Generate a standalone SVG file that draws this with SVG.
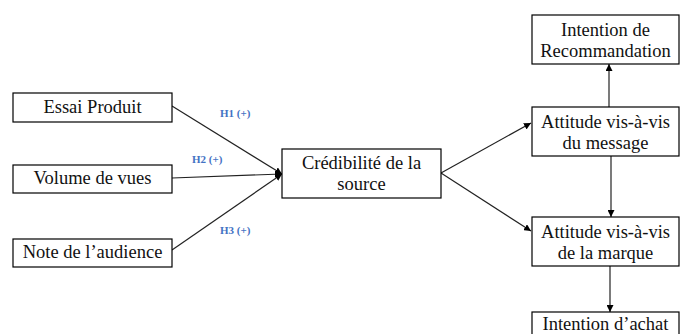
<svg xmlns="http://www.w3.org/2000/svg" width="681" height="334" viewBox="0 0 681 334">
<style>
.box{fill:#fff;stroke:#000;stroke-width:1.2}
.t{font-family:"Liberation Serif","Times New Roman",serif;font-size:18.5px;fill:#111;text-anchor:middle}
.h{font-family:"Liberation Serif","Times New Roman",serif;font-size:11px;font-weight:bold;fill:#4472C4}
.c{stroke:#222;stroke-width:1.2;fill:none;marker-end:url(#a)}
</style>
<defs>
<marker id="a" viewBox="0 0 10 10" refX="10" refY="5" markerWidth="7" markerHeight="7" markerUnits="userSpaceOnUse" orient="auto">
<path d="M0,0 L10,5 L0,10 z" fill="#000"/>
</marker>
</defs>
<rect width="681" height="334" fill="#fff"/>
<g id="connectors">
<line class="c" x1="172" y1="106" x2="282" y2="174"/>
<line class="c" x1="172" y1="178" x2="282" y2="174"/>
<line class="c" x1="172" y1="250" x2="282" y2="174"/>
<line class="c" x1="441" y1="173" x2="531" y2="123"/>
<line class="c" x1="441" y1="173" x2="531" y2="231"/>
<line class="c" x1="609" y1="107" x2="609" y2="64"/>
<line class="c" x1="611" y1="156" x2="611" y2="217"/>
<line class="c" x1="610" y1="266" x2="610" y2="312"/>
</g>
<g id="labels">
<text class="h" x="220" y="117">H1 (+)</text>
<text class="h" x="192" y="163">H2 (+)</text>
<text class="h" x="220" y="234">H3 (+)</text>
</g>
<g id="essai">
<rect class="box" x="13" y="93" width="159" height="29"/>
<text class="t" x="92.5" y="112.5">Essai Produit</text>
</g>
<g id="volume">
<rect class="box" x="13" y="165" width="159" height="28"/>
<text class="t" x="92.5" y="184">Volume de vues</text>
</g>
<g id="note">
<rect class="box" x="13" y="239" width="159" height="28"/>
<text class="t" x="92.5" y="258">Note de l’audience</text>
</g>
<g id="credibilite">
<rect class="box" x="282" y="149" width="159" height="49"/>
<text class="t" x="361.5" y="169">Crédibilité de la</text>
<text class="t" x="361.5" y="190">source</text>
</g>
<g id="recommandation">
<rect class="box" x="532" y="15" width="147" height="49"/>
<text class="t" x="605.5" y="36">Intention de</text>
<text class="t" x="605.5" y="57">Recommandation</text>
</g>
<g id="message">
<rect class="box" x="532" y="107" width="147" height="49"/>
<text class="t" x="605.5" y="128">Attitude vis-à-vis</text>
<text class="t" x="605.5" y="149">du message</text>
</g>
<g id="marque">
<rect class="box" x="532" y="217" width="147" height="49"/>
<text class="t" x="605.5" y="238">Attitude vis-à-vis</text>
<text class="t" x="605.5" y="259">de la marque</text>
</g>
<g id="achat">
<rect class="box" x="532" y="312" width="147" height="40"/>
<text class="t" x="605.5" y="330">Intention d’achat</text>
</g>
</svg>
